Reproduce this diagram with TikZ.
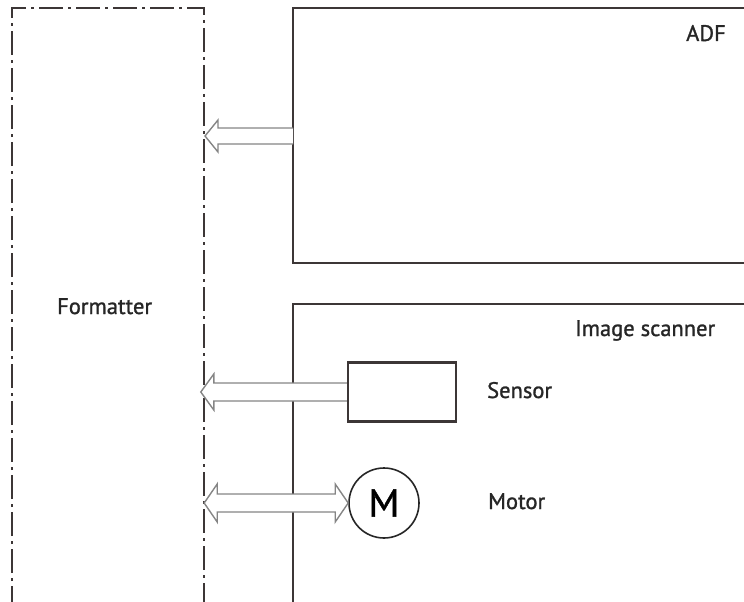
\documentclass[tikz,border=0pt]{standalone}
\usepackage{fontspec}
\setmainfont{PT Sans}
\newfontfamily\lblfont{PT Sans}[FakeBold=1.2]
\begin{document}
\begin{tikzpicture}[x=1pt,y=-1pt,
  boxline/.style={draw=linedark,line width=2.4pt},
  dashbox/.style={draw=linedark,line width=2.4pt,dash pattern=on 24pt off 5pt on 3pt off 5pt},
  fatarrow/.style={draw=arrgray,fill=white,line width=1.4pt,line join=miter},
  lbl/.style={anchor=base west,inner sep=0pt,font=\lblfont\fontsize{22.5}{26}\selectfont,text=black!85}]
\definecolor{linedark}{HTML}{3C3636}
\definecolor{arrgray}{HTML}{858585}
\useasboundingbox (0,0) rectangle (744,602);
% Formatter (dash-dot)
\draw[dashbox] (12,610) -- (12,8) -- (204,8) -- (204,610);
% ADF box
\draw[boxline] (760,8) -- (293,8) -- (293,263) -- (760,263);
% Image scanner box
\draw[boxline] (760,304) -- (293,304) -- (293,610);
% Sensor and motor
\node[boxline,rectangle,minimum width=108pt,minimum height=59pt,inner sep=0pt] (sensor) at (402,392) {};
\node[draw=black!85,line width=1.6pt,circle,minimum size=70pt,inner sep=0pt,font=\lblfont\fontsize{39}{40}\selectfont] (motor) at (384,503) {M};
% arrows
\coordinate (adfA) at (293,136);
\path[fatarrow] (adfA) ++(0,-8) -- ++(-75,0) -- ++(0,-8) -- ++(-13,16) -- ++(13,16) -- ++(0,-8) -- ++(75,0);
\path[fatarrow] (sensor.west) ++(0,-9) -- ++(-133,0) -- ++(0,-9) -- ++(-13,18) -- ++(13,18) -- ++(0,-9) -- ++(133,0);
\path[fatarrow] (motor.west) -- ++(-13,-19) -- ++(0,10) -- ++(-118,0) -- ++(0,-10) -- ++(-13,19) -- ++(13,19) -- ++(0,-10) -- ++(118,0) -- ++(0,10) -- cycle;
% labels
\node[lbl] (tadf) at (686,41) {ADF};
\node[lbl] (tfmt) at (57,314) {Formatter};
\node[lbl] (tscan) at (575,336) {Image scanner};
\node[lbl] (tsens) at (487,398) {Sensor};
\node[lbl] (tmot) at (488,509) {Motor};
\end{tikzpicture}
\end{document}
